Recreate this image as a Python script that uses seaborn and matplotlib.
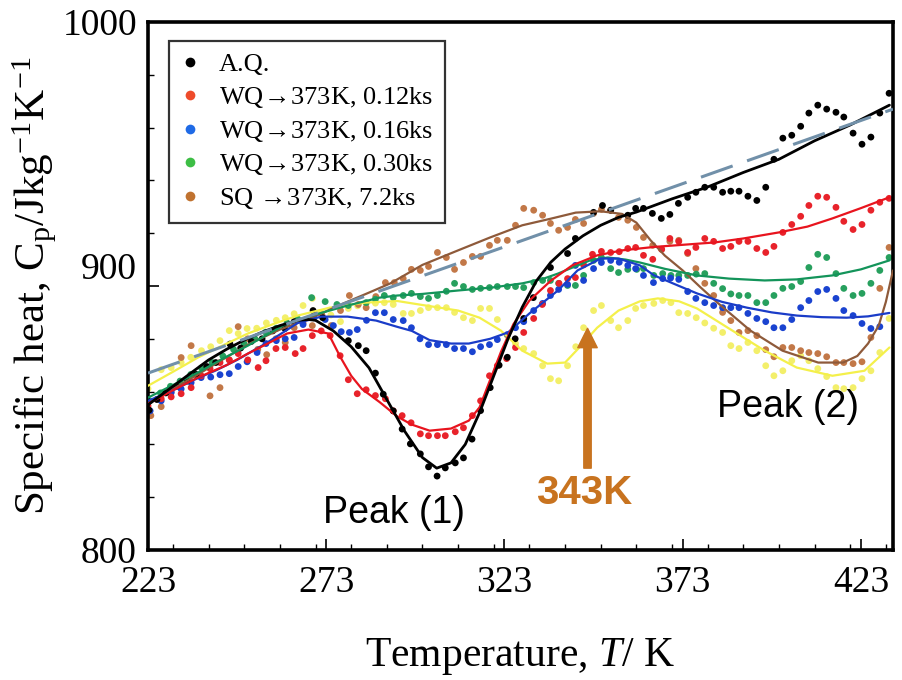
import matplotlib
matplotlib.use("Agg")
import matplotlib.pyplot as plt
import matplotlib.transforms as mtransforms
from matplotlib.ticker import MultipleLocator
import seaborn as sns

# ---------------- data ----------------
aq_T = [223.3,225.5,228,231,234,236.5,239.5,242,246,249,252,255,258,261.4,264,269.3,272,279.2,282,284.2,286.8,289,291.8,294.3,296.6,299.4,301.7,304.1,306.4,309.2,311.5,313.9,316.3,319,321.5,323.8,326,328.4,331.1,335.9,340.7,342.9,348,350.5,352.8,357.6,359.8,362,364.5,367,369.4,371.8,374.4,376.7,379.2,381.7,384.2,386.5,388.8,391.3,393.8,396.3,398.6,401.1,403.6,406.1,408.4,410.9,413.4,416,418.2,420.8,423.3,425.8,428.3,430.9]
aq_V = [853,857,859.5,862,864,866.5,869.5,871,878,876.5,879,880,883,883.9,886.5,890.7,888,879.3,877.4,875.5,867,859,852.7,845.8,840.2,836.4,831.5,828,831.1,833,834.9,842,852.8,861.5,870,873,880,887.7,895.6,907,912.3,918,927.9,930.5,928.7,926.8,929.4,929.4,927.5,925.6,927.1,931.3,933.6,935.5,937.4,937.4,935.5,935.9,935.9,934,932.4,937.4,948,956,957.1,960.5,965.5,968.5,967,965.8,964,957.9,953.7,956.4,965.5,973]
aq_fit_T = [223,230,235,240,245,250,255,260,265,268,270,275,280,285,290,295,300,304,308,312,316,320,324,328,332,336,340,345,350,355,360,370,380,390,400,410,420,431]
aq_fit_V = [855,862,867,872,876,879.5,882.5,885,887,887.3,887,883,877,869,857,845,835,831,833,840,852,866,880,892,902,909,914,919,923,926,928,933,937.5,943,948,955,961,968.5]

r_T = [223,226.7,229.5,232.3,235.1,237.9,240.4,243.2,245.8,248.3,251,253.9,256.1,258.9,261.5,264.3,266.5,269.1,271.6,274.1,276.9,279.2,281.7,284.2,286.8,289.6,291.8,294.3,296.8,299.4,301.7,304.2,306.4,309.2,311.5,314,316.3,318.8,321,323.6,326.1,328.4,331.2,333.6,335.9,338.3,340.7,342.9,345.2,347.7,350.2,352.8,355.2,357.6,359.8,362,364.6,367.1,369.4,371.9,374.4,376.7,379.2,381.7,384.2,386.5,388.8,391.3,393.8,396.3,398.6,401.1,403.6,406.1,408.4,410.9,413.4,416,418.2,420.8,423.3,425.8,428.3,430.9]
r_V = [854.6,857.3,858,859.2,861.5,866,868.7,871,872,874.4,872,869.1,871.7,876.3,876.7,874.4,876.3,881.2,883,881.2,873.6,864.5,859.2,860.7,858.5,857.3,852.7,850.9,848.2,844,843.3,843.3,843.3,844.8,846.3,850.9,856.5,866,869.8,872.5,876.7,882.4,887.7,893,898.3,901,902.8,903.2,908,912,913.1,912.7,913,914.2,914.6,911.6,910.1,913.9,918,916.9,912.7,914.6,918,916.9,914.2,915,916.9,916.9,914.2,912.7,915,920.3,923.3,926.4,930.5,934,933.6,929.8,924.5,921.4,923.3,928.7,931.7,933.2]
r_fit_T = [223,230,237,245,251,257,262,268,273.6,277,280,283,288,293,297,302,308,313,316,318,322,325.5,330,336,342,349,356,365,375,382,390,400,408,415,423,431]
r_fit_V = [855.4,860.5,865.3,870,874.4,878.5,882,883.5,882,873,866,861,856,850.5,847.5,845.2,846,849,854,861,875,885.5,894.5,902,907.8,911.6,913.5,914.8,915.8,916.5,918,920.3,922.5,925.6,929.5,933.6]

b_T = [223.6,226.7,229.5,232.3,235.1,237.9,240.6,243.2,245.8,248.3,250.8,253.6,256.1,259,261.5,264,266.5,269.5,272.7,275,277.2,279.5,281.7,284.3,286.8,289.3,291.8,294.6,296.9,299.3,301.7,304.2,306.7,309,311.5,314,316.3,318.8,321,323.8,326.1,328.4,331.2,333.7,335.9,338.2,340.7,342.9,345.2,348,350.2,352.8,355.2,357.6,359.8,362,364.8,367.4,369.6,371.9,374.4,376.7,379.2,381.7,384.2,386.5,388.8,391.3,393.8,396.3,398.6,401.1,403.6,406.1,408.4,410.9,413.4,416,418.2,420.8,423.3,425.8,428.3]
b_V = [852.7,856.5,859.6,861,863.4,865.3,865.5,866.4,866.8,869.5,871.3,874.8,878.2,879.3,880,880.5,885.4,888,887.3,885,882.7,882.4,883.5,887,889.9,889.9,887.3,886.9,884.2,880,877.8,877.8,877.8,876.3,876.3,875.1,877,877.8,879.7,881.6,884.2,886.5,890.7,893.4,896.4,898.7,900.6,907.8,902.1,906.6,908.9,909.7,909,907.8,906.6,904,901.3,902.8,903,902.5,897.9,895.3,893.7,892.6,891.8,891.8,891.8,889.6,887.7,886.5,884.2,884.2,887.3,891.8,894.5,897.9,898.7,895.3,890.7,888.8,885.8,883.9,884.6]
b_fit_T = [223,230,236,242,248,256,261,265,271.6,279,287,293,297,302,308,313,319,324,330,338,343.5,350,355,361,365,372,377,384,391,398,405,412,419,425,431]
b_fit_V = [856.5,860.5,864.5,868,872,878.2,882.5,886,888.4,888.4,886.9,884.5,883,879.5,878.2,878.2,880,882.4,889.6,898.3,905.9,910.4,910.4,907.8,904,900,897.2,894,891.8,890,888.8,888.2,888,888.5,889.8]

g_T = [223.5,226.5,229.3,232,235,238,241,244,247,250,253,256,259,262,265,268.9,272.7,276,279.2,284.2,286.8,289.3,291.8,294.6,296.9,299.4,301.7,304.2,306.7,309,311.5,314,316.3,318.8,321,323.8,326.1,328.4,331.2,333.7,335.9,338.2,340.7,342.9,345.2,348,350.2,352.8,355,357.6,360.1,362,364.9,367.4,369.7,371.9,374.4,376.8,379.2,381.7,384.2,386.5,388.8,391.3,393.8,396.3,398.6,401.1,403.6,406.1,408.4,410.9,413.4,416,418.2,420.8,423.3,425.8,428.3,430.9]
g_V = [856.5,859.5,862,864,866.5,869,871,873.5,876,878,880,882.5,884,886,887.5,895.6,894.1,893,892.6,893.7,895,896.4,895.6,896.4,897.2,896,895.3,896.4,898,901,899.8,898.7,899.1,899.4,899.8,899.8,899.8,899.4,901.3,902.1,902.1,901,900.2,900.2,904,909.7,910.8,906.6,905.1,906.3,906.3,906.6,904,904.7,904,904,904,904.5,904.7,901,899,897,896.4,896.4,893.7,893.7,896.4,899.1,899.8,901.7,907,912,910.8,904.7,899.1,896.4,897.2,901,905.9,910.8]
g_fit_T = [223,230,237,244,251,257,262,270,279,288,293,300,310,320,328,334,338,343,347,352,357,361,368,377,386,396,405,415,423,431]
g_fit_V = [857.7,862.5,867.2,872.5,877.4,882,885.8,889.2,892.6,895.6,896.4,897,898.3,899.5,901,902.8,904.7,907.5,909.7,910.8,910,908.9,906.5,904,902.8,902.1,902.5,904,906.3,909.7]

s_T = [223.8,226.7,229.5,232.3,235.1,237.8,240.4,243.2,245.8,248.3,251,253.8,256.3,258.9,261.5,264,266.5,269.1,271.8,274.4,277,279.5,282,284.2,286.9,289.6,292.1,294.6,296.9,299.4,301.7,304.2,306.7,309,311.5,314,316.3,318.8,321,323.8,326.1,328.4,331.2,333.7,335.9,338.2,340.7,342.9,345.2,348,350.2,352.8,355,357.6,360,362,364.6,367.1,369.4,371.9,374.4,376.7,379.2,381.7,384.2,386.5,388.8,391.3,393.8,396.3,398.6,401.1,403.6,406.1,408.4,410.9,413.4,416,418.2,420.8,423.3,425.8,428.3,430.9]
s_V = [850.9,854.3,860,872.9,877.4,866,858.4,861.5,872,884.6,880,876,874,880,878.6,884.2,886,885,889,885,890.7,896.4,893,891.8,896,901.3,901.3,902.8,906.3,905.9,907.4,912.7,910.8,906.3,908.9,911.2,911.2,915.4,917.3,917.3,923,929.4,928.7,926.8,923.7,921.1,922.2,925.2,923.7,927.5,929,928.7,926,924.9,922.2,918.4,915.4,913.9,916.9,917.3,912.3,906.6,901,896.4,890,886.9,882.4,883.1,881.2,875.9,873.2,876.7,876.7,875.5,874.8,874.4,873.2,871,871,870.6,871.3,880.5,899.1,914.6]
s_fit_T = [223,230,237,245,252,260,269,278,285,291,300,310,319,328,336,343,350,356,360,364,368,373,378,383,392,401,411,418,422,425,428,430,432]
s_fit_V = [855.5,861,866.5,873,878.5,883.5,888,893.5,897.5,901,908,913.5,918.4,923,925.5,927.8,928.3,927.3,924,917.3,911.5,905.9,899.5,893.4,883.1,875.5,871,871,873.5,878.2,885,894,905.9]

y_T = [223,226.7,229.5,232.3,235,238,240.6,243.2,245.8,248.3,250.8,253.5,256.2,259,261.5,264,266.5,269.1,271.6,274.3,277,279.2,281.8,284.2,286.8,289.3,291.8,294.6,296.9,299.4,301.7,304.2,306.7,309,311.5,314,316.3,318.8,321,323.8,326.1,328.4,331.2,333.7,335.9,338.2,340.7,343,345.2,348,350.2,352.8,355,357.6,359.8,362,364.9,367.4,369.7,371.9,374.4,376.8,379.2,381.7,384.2,386.5,388.8,391.3,393.8,396.3,398.6,401.1,403.6,406.1,408.4,410.9,413.4,416,418.2,420.8,423.3,425.8,428.3,430.9]
y_V = [861.1,868.3,869.1,871,873,875.5,877,879.3,883.1,882,883.9,884,886,887,888,889.5,892.6,895.3,890,889,886.5,891.5,892.5,893.4,893.5,893.7,893,889.6,889.6,890.7,891.8,891.8,891.8,890,888,886.9,891.5,891.5,887.3,881.2,878.2,876.3,874.4,869.8,864.9,864.1,869.8,877,884.2,890.7,892.6,886.9,884.2,886.9,891.5,892.6,893.4,894.5,893.7,889.9,889.6,888,886,884,882.4,877.4,876.3,878.6,875.5,869.8,866,867.9,871.7,873.6,871.7,868.7,865.7,861.5,861.1,861.5,864.9,867.9,874.8,887.7]
y_fit_T = [223,230,237,244,251,258,265,274,284,293,300,310,316,322,328,335,340,344,349,355,361,366,372,377,386,396,405,415,424,431]
y_fit_V = [862.2,867.5,872.9,877.5,882,885.5,888.8,891.8,893.7,894.3,892.8,890.7,888,883.1,875.5,870.6,871,876.7,884.2,890.7,894.2,895.3,894.2,891.5,883.9,875.5,869.1,866,867.9,876.7]

base_T = [223, 432]
base_V = [867, 967]

ARW = "$\\!\\rightarrow\\!$"
labels = ["A.Q.", "WQ" + ARW + "373K, 0.12ks", "WQ" + ARW + "373K, 0.16ks",
          "WQ" + ARW + "373K, 0.30ks", "SQ " + ARW + "373K, 7.2ks"]
xticks = [223, 273, 323, 373, 423]
yticks = [800, 900, 1000]

# ---------------- style ----------------
sns.set_theme(style="white")
serif = ["Liberation Serif", "DejaVu Serif"]
sans = ["Liberation Sans", "DejaVu Sans"]
plt.rcParams["font.family"] = serif
plt.rcParams["mathtext.fontset"] = "custom"
plt.rcParams["mathtext.rm"] = "Liberation Serif"
plt.rcParams["mathtext.it"] = "Liberation Serif:italic"
plt.rcParams["mathtext.fallback"] = "cm"
for k in ["text.color", "axes.labelcolor", "xtick.color", "ytick.color"]:
    plt.rcParams[k] = "black"

fig = plt.figure(figsize=(9.02, 6.80), dpi=100)
ax = fig.add_axes([148/902, 1-550/680, (893-148)/902, (550-22)/680])

dot_s = 24
series = [
    (y_T, y_V, y_fit_T, y_fit_V, "#F3EF6A", "#F4F04A", None, "#F3EF6A"),
    (s_T, s_V, s_fit_T, s_fit_V, "#C27848", "#8E5A3A", labels[4], "#C0722F"),
    (g_T, g_V, g_fit_T, g_fit_V, "#27A05E", "#13945A", labels[3], "#3DBE45"),
    (b_T, b_V, b_fit_T, b_fit_V, "#1A43D0", "#1A3CC8", labels[2], "#1F6AE6"),
    (r_T, r_V, r_fit_T, r_fit_V, "#E8232B", "#E8141E", labels[1], "#EE4B2B"),
    (aq_T, aq_V, aq_fit_T, aq_fit_V, "#000000", "#000000", labels[0], "#000000"),
]
handles = {}
for T, V, fT, fV, dc, lc, lab, legc in series:
    sns.scatterplot(x=T, y=V, color=dc, s=dot_s, edgecolor="none", ax=ax,
                    legend=False, zorder=2)
for T, V, fT, fV, dc, lc, lab, legc in series:
    sns.lineplot(x=fT, y=fV, color=lc, lw=1.6 if lc != "#000000" else 2.0,
                 ax=ax, legend=False, estimator=None, sort=False, zorder=3)
    if lab is not None:
        handles[lab] = plt.Line2D([], [], ls="none", marker="o", ms=7,
                                  mfc=legc, mec="none")

sns.lineplot(x=base_T, y=base_V, color="#7190A9", lw=2.2, ax=ax,
             legend=False, estimator=None, zorder=4, dashes=False)
ax.lines[-1].set_dashes([11, 5])

ax.set_xlim(223, 432)
ax.set_ylim(800, 1000)
ax.set_xticks(xticks)
ax.set_yticks(yticks)
ax.xaxis.set_minor_locator(MultipleLocator(10))
ax.yaxis.set_minor_locator(MultipleLocator(20))
ax.tick_params(which="both", direction="in", top=False, right=False,
               bottom=True, left=True, colors="black", labelsize=27)
ax.tick_params(which="major", length=8, width=1.2)
ax.tick_params(which="minor", length=4, width=1.0)
ax.tick_params(axis="x", pad=11)
ax.tick_params(axis="y", pad=8)
for sp in ax.spines.values():
    sp.set_visible(True)
    sp.set_color("black")
    sp.set_linewidth(2.6)

# shift the "900" label upward like in the reference
fig.canvas.draw()
for lab in ax.get_yticklabels():
    if lab.get_text() == "900":
        lab.set_transform(lab.get_transform() +
                          mtransforms.ScaledTranslation(0, 0.2, fig.dpi_scale_trans))

ax.set_xlabel("Temperature, $\\mathit{T}$/ K", fontsize=30, labelpad=26)
ax.set_ylabel("Specific heat, C$_\\mathrm{p}$/Jkg$^{\\mathrm{-1}}$K$^{\\mathrm{-1}}$",
              fontsize=31, labelpad=2)

leg = ax.legend([handles[l] for l in labels], labels, loc="upper left",
                bbox_to_anchor=(0.028, 0.964), borderaxespad=0,
                fontsize=19, frameon=True, fancybox=False, handlelength=0.7,
                handletextpad=0.75, labelspacing=0.33, borderpad=0.45)
leg.get_frame().set_edgecolor("black")
leg.get_frame().set_linewidth(1.6)
leg.set_zorder(10)

ax.text(292, 814, "Peak (1)", family=sans, fontsize=27, ha="center",
        va="center", color="black", zorder=6)
ax.text(402.5, 854.3, "Peak (2)", family=sans, fontsize=27, ha="center",
        va="center", color="black", zorder=6)
ax.text(345.3, 821.6, "343K", family=sans, fontsize=29, fontweight="bold",
        ha="center", va="center", color="#C8731F", zorder=6)
ax.annotate("", xy=(346.3, 884), xytext=(346.3, 831),
            arrowprops=dict(arrowstyle="simple,head_length=1.0,head_width=1.0,tail_width=0.38",
                            color="#C8731F", mutation_scale=14,
                            shrinkA=0, shrinkB=0), zorder=6)

fig.savefig("out.png", dpi=100)
